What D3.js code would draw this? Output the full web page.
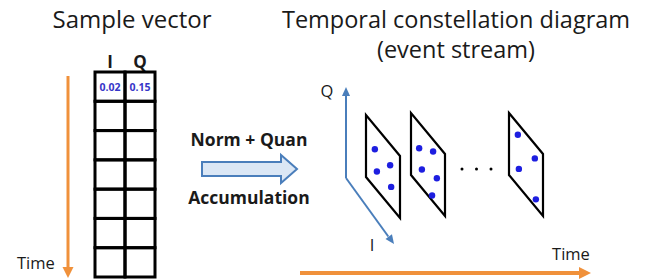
<!DOCTYPE html>
<html>
<head>
<meta charset="utf-8">
<script src="https://d3js.org/d3.v7.min.js"></script>
<style>
  body { margin: 0; background: #fff; }
  text { font-family: "Open Sans", "Noto Sans", sans-serif; fill: #1a1a1a; }
</style>
</head>
<body>
<div id="my_dataviz"></div>
<script>
// ---- data ----
var columns = ["I", "Q"];
var rowCount = 7;
var firstRow = ["0.02", "0.15"];
var panelIndex = [0, 1, 3];           // 3rd slot is after the "..."
// dots per panel: u = along I (0..1), v = along Q (0..1)
var panel0 = [[0.26, 0.62], [0.32, 0.30], [0.71, 0.66], [0.74, 0.33]];
var panel1 = [[0.24, 0.59], [0.65, 0.81], [0.32, 0.30], [0.76, 0.45], [0.62, 0.08]];
var panel2 = [[0.26, 0.82], [0.76, 0.77], [0.29, 0.29], [0.79, 0.13]];
var panels = [panel0, panel1, panel2];
var ellipsis = [0, 1, 2];

var width = 654, height = 280;
var orange = "#f0913b", blue = "#4a7ebb", dotBlue = "#1d1ee0";

var svg = d3.select("#my_dataviz")
  .append("svg")
  .attr("width", width)
  .attr("height", height);

function arrowHead(g, x, y, angle, len, half, color) {
  var p = d3.path();
  var c = Math.cos(angle), s = Math.sin(angle);
  p.moveTo(x, y);
  p.lineTo(x - len * c - half * s, y - len * s + half * c);
  p.lineTo(x - len * c + half * s, y - len * s - half * c);
  p.closePath();
  g.append("path").attr("d", p.toString()).attr("fill", color);
}

// ---- left: sample vector ----
svg.append("text").attr("x", 132).attr("y", 28)
  .attr("text-anchor", "middle").style("font-size", "24px")
  .text("Sample vector");

var colX = d3.scaleBand().domain(columns).range([95, 155]);
var rowY = d3.scaleBand().domain(d3.range(rowCount)).range([72, 277]);

var table = svg.append("g");
columns.forEach(function(c) {
  table.append("text").attr("x", colX(c) + colX.bandwidth() / 2).attr("y", 68)
    .attr("text-anchor", "middle").style("font-size", "17px").style("font-weight", "bold")
    .text(c);
});
table.selectAll("rect.cell")
  .data(d3.cross(d3.range(rowCount), columns))
  .enter().append("rect")
  .attr("class", "cell")
  .attr("x", function(d) { return colX(d[1]); })
  .attr("y", function(d) { return rowY(d[0]); })
  .attr("width", colX.bandwidth())
  .attr("height", rowY.bandwidth())
  .attr("fill", "none").attr("stroke", "#000").attr("stroke-width", 3);
table.selectAll("text.val")
  .data(firstRow).enter().append("text")
  .attr("class", "val")
  .attr("x", function(d, i) { return colX(columns[i]) + colX.bandwidth() / 2; })
  .attr("y", rowY(0) + rowY.bandwidth() / 2 + 4)
  .attr("text-anchor", "middle")
  .style("font-size", "10.5px").style("font-weight", "bold").style("fill", "#3636c8")
  .text(function(d) { return d; });

// orange vertical time arrow
var lt = svg.append("g");
lt.append("line").attr("x1", 68).attr("x2", 68).attr("y1", 76).attr("y2", 268)
  .attr("stroke", orange).attr("stroke-width", 3);
arrowHead(lt, 68, 278, Math.PI / 2, 11, 5.5, orange);
svg.append("text").attr("x", 17).attr("y", 269).style("font-size", "16.5px").text("Time");

// ---- middle ----
svg.append("text").attr("x", 249).attr("y", 146).attr("text-anchor", "middle")
  .style("font-size", "17.5px").style("font-weight", "bold").text("Norm + Quan");
svg.append("text").attr("x", 249).attr("y", 204).attr("text-anchor", "middle")
  .style("font-size", "17.5px").style("font-weight", "bold").text("Accumulation");
var ba = d3.path();
ba.moveTo(202, 162); ba.lineTo(281, 162); ba.lineTo(281, 155); ba.lineTo(297, 169);
ba.lineTo(281, 183); ba.lineTo(281, 176); ba.lineTo(202, 176); ba.closePath();
svg.append("path").attr("d", ba.toString())
  .attr("fill", "#dbe7f5").attr("stroke", blue).attr("stroke-width", 2);

// ---- right: temporal constellation ----
svg.append("text").attr("x", 456).attr("y", 28).attr("text-anchor", "middle")
  .style("font-size", "23.5px").text("Temporal constellation diagram");
svg.append("text").attr("x", 456).attr("y", 58).attr("text-anchor", "middle")
  .style("font-size", "23.5px").text("(event stream)");

// IQ axes
var ax = svg.append("g");
ax.append("line").attr("x1", 346).attr("y1", 178).attr("x2", 346).attr("y2", 96)
  .attr("stroke", blue).attr("stroke-width", 2);
arrowHead(ax, 346, 87, -Math.PI / 2, 9, 4, blue);
var ang = Math.atan2(243 - 178, 393 - 346);
ax.append("line").attr("x1", 346).attr("y1", 178)
  .attr("x2", 393 - 8 * Math.cos(ang)).attr("y2", 243 - 8 * Math.sin(ang))
  .attr("stroke", blue).attr("stroke-width", 2);
arrowHead(ax, 394, 244, ang, 9, 4, blue);
svg.append("text").attr("x", 327).attr("y", 97).attr("text-anchor", "middle")
  .style("font-size", "16.5px").text("Q");
svg.append("text").attr("x", 372).attr("y", 251).attr("text-anchor", "middle")
  .style("font-size", "16.5px").text("I");

// panels
var slotTop = [115, 113, 113, 113];
var slotLeft = [366, 411, 460, 509];
var pw = 34, skew = 41, ph = 62;

panels.forEach(function(pts, k) {
  var slot = panelIndex[k];
  var L = slotLeft[slot], T = slotTop[slot];
  var u = d3.scaleLinear().domain([0, 1]).range([0, pw]);
  var v = d3.scaleLinear().domain([0, 1]).range([ph, 0]);
  var g = svg.append("g").attr("transform", "translate(" + L + "," + T + ")");
  var corners = [[0, 1], [0, 0], [1, 0], [1, 1]];
  g.append("path")
    .attr("d", d3.line()
      .x(function(c) { return u(c[0]); })
      .y(function(c) { return u(c[0]) / pw * skew + v(c[1]); })
      .curve(d3.curveLinearClosed)(corners))
    .attr("fill", "none").attr("stroke", "#000").attr("stroke-width", 2.2);
  g.selectAll("circle").data(pts).enter().append("circle")
    .attr("cx", function(d) { return u(d[0]); })
    .attr("cy", function(d) { return u(d[0]) / pw * skew + v(d[1]); })
    .attr("r", 3.2).attr("fill", dotBlue);
});

var dotX = d3.scaleLinear().domain([0, 2]).range([462, 491]);
svg.selectAll("circle.ell").data(ellipsis).enter().append("circle")
  .attr("class", "ell").attr("cx", function(d) { return dotX(d); }).attr("cy", 169)
  .attr("r", 1.5).attr("fill", "#000");

// orange horizontal time arrow
var ht = svg.append("g");
ht.append("line").attr("x1", 300).attr("x2", 580).attr("y1", 273).attr("y2", 273)
  .attr("stroke", orange).attr("stroke-width", 4);
arrowHead(ht, 591, 273, 0, 12, 6, orange);
svg.append("text").attr("x", 571).attr("y", 260).attr("text-anchor", "middle")
  .style("font-size", "16.5px").text("Time");
</script>
</body>
</html>
